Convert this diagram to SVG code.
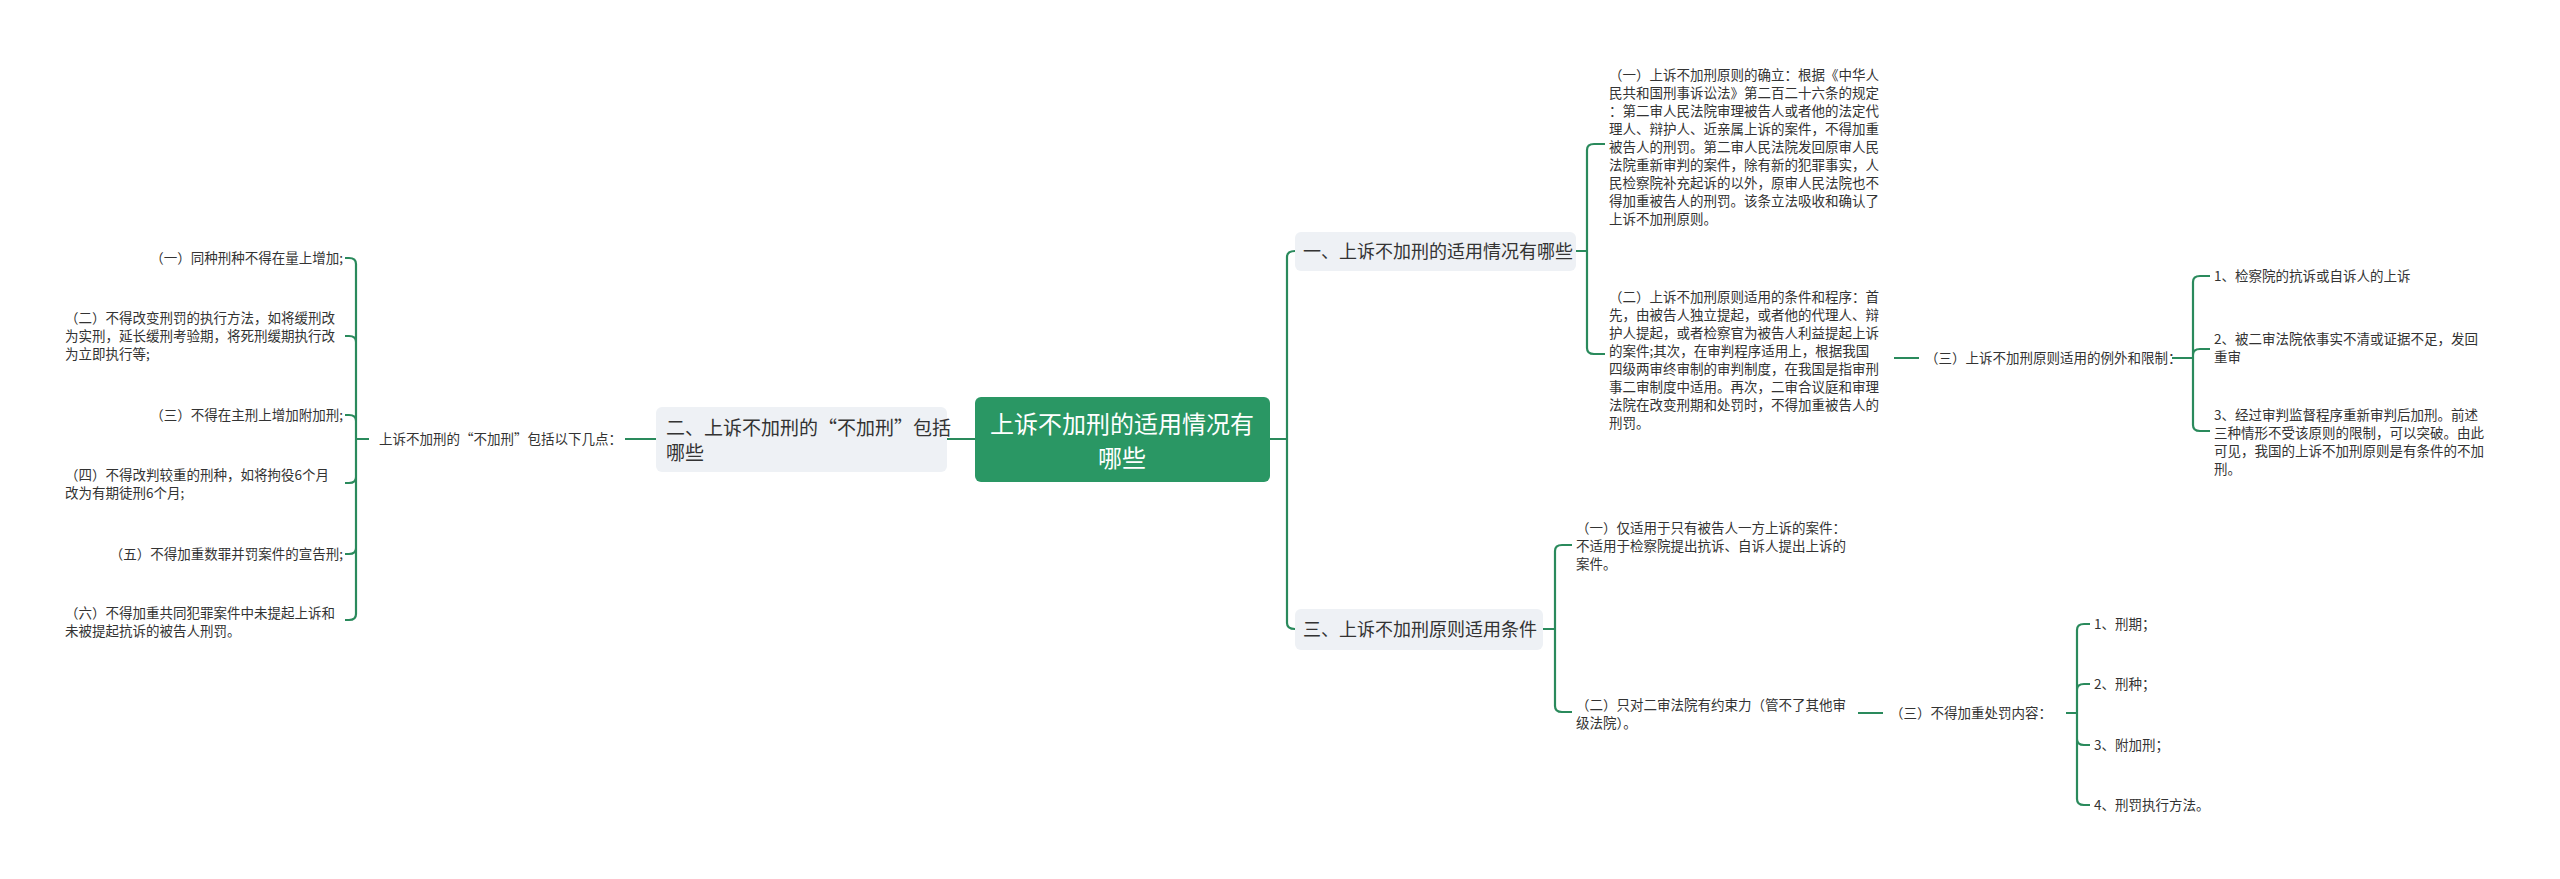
<svg xmlns="http://www.w3.org/2000/svg" width="2560" height="879" viewBox="0 0 2560 879">
<style>
text{font-family:"Noto Sans CJK SC","Noto Sans",sans-serif;fill:#333}
.s{font-size:13.5px}
.e{text-anchor:end}
.c path{fill:none;stroke:#2a8a5c;stroke-width:2.2}
.sub rect{fill:#eef1f5}
</style>
<rect width="2560" height="879" fill="#fff"/>
<g class="c">
<path d="M947 439H975M1270 439H1287M625 439H656"/>
<path d="M1287 439V257Q1287 251 1295 251M1287 439V623Q1287 629 1295 629"/>
<!-- left bracket -->
<path d="M369 439H356V264Q356 258 349 258H345M356 439V342Q356 336 349 336H345M356 439V421Q356 415 349 415H345M356 439V477Q356 483 349 483H345M356 439V548Q356 554 349 554H345M356 439V614Q356 620 349 620H345"/>
<!-- node 一 bracket -->
<path d="M1576 251H1587V150Q1587 144 1594 144H1605M1587 251V348Q1587 354 1594 354H1605"/>
<path d="M1894 358H1919M2172 358H2193V282Q2193 276 2200 276H2210M2193 358V355Q2193 349 2200 349H2210M2193 358V425Q2193 431 2200 431H2210"/>
<!-- node 三 bracket -->
<path d="M1543 629H1555V551Q1555 545 1562 545H1572M1555 629V706Q1555 712 1562 712H1572"/>
<path d="M1858 713H1883M2066 713H2077V630Q2077 624 2084 624H2090M2077 713V690Q2077 684 2084 684H2090M2077 713V739Q2077 745 2084 745H2090M2077 713V799Q2077 805 2084 805H2090"/>
</g>
<g id="center"><rect x="975" y="397" width="295" height="85" rx="6" fill="#2a9764"/>
<text x="1122" y="433" font-size="24" text-anchor="middle" style="fill:#fff">上诉不加刑的适用情况有</text>
<text x="1122" y="467" font-size="24" text-anchor="middle" style="fill:#fff">哪些</text></g>
<g id="n2" class="sub"><rect x="656" y="407" width="291" height="65" rx="6"/>
<text x="666" y="435" font-size="19">二、上诉不加刑的“不加刑”包括</text>
<text x="666" y="460" font-size="19">哪些</text></g>
<g id="n2label"><text class="s" x="379" y="444">上诉不加刑的“不加刑”包括以下几点：</text></g>
<g id="left">
<text class="s e" x="343" y="263">（一）同种刑种不得在量上增加;</text>
<text class="s" x="65" y="323">（二）不得改变刑罚的执行方法，如将缓刑改</text>
<text class="s" x="65" y="341">为实刑，延长缓刑考验期，将死刑缓期执行改</text>
<text class="s" x="65" y="359">为立即执行等;</text>
<text class="s e" x="343" y="420">（三）不得在主刑上增加附加刑;</text>
<text class="s" x="65" y="480">（四）不得改判较重的刑种，如将拘役6个月</text>
<text class="s" x="65" y="498">改为有期徒刑6个月;</text>
<text class="s e" x="343" y="559">（五）不得加重数罪并罚案件的宣告刑;</text>
<text class="s" x="65" y="618">（六）不得加重共同犯罪案件中未提起上诉和</text>
<text class="s" x="65" y="636">未被提起抗诉的被告人刑罚。</text>
</g>
<g id="n1" class="sub"><rect x="1295" y="232" width="281" height="39" rx="6"/>
<text x="1303" y="258" font-size="18">一、上诉不加刑的适用情况有哪些</text></g>
<g id="n1a">
<text class="s" x="1609" y="80">（一）上诉不加刑原则的确立：根据《中华人</text>
<text class="s" x="1609" y="98">民共和国刑事诉讼法》第二百二十六条的规定</text>
<text class="s" x="1609" y="116">：第二审人民法院审理被告人或者他的法定代</text>
<text class="s" x="1609" y="134">理人、辩护人、近亲属上诉的案件，不得加重</text>
<text class="s" x="1609" y="152">被告人的刑罚。第二审人民法院发回原审人民</text>
<text class="s" x="1609" y="170">法院重新审判的案件，除有新的犯罪事实，人</text>
<text class="s" x="1609" y="188">民检察院补充起诉的以外，原审人民法院也不</text>
<text class="s" x="1609" y="206">得加重被告人的刑罚。该条立法吸收和确认了</text>
<text class="s" x="1609" y="224">上诉不加刑原则。</text>
</g>
<g id="n1b">
<text class="s" x="1609" y="302">（二）上诉不加刑原则适用的条件和程序：首</text>
<text class="s" x="1609" y="320">先，由被告人独立提起，或者他的代理人、辩</text>
<text class="s" x="1609" y="338">护人提起，或者检察官为被告人利益提起上诉</text>
<text class="s" x="1609" y="356">的案件;其次，在审判程序适用上，根据我国</text>
<text class="s" x="1609" y="374">四级两审终审制的审判制度，在我国是指审刑</text>
<text class="s" x="1609" y="392">事二审制度中适用。再次，二审合议庭和审理</text>
<text class="s" x="1609" y="410">法院在改变刑期和处罚时，不得加重被告人的</text>
<text class="s" x="1609" y="428">刑罚。</text>
</g>
<g id="n1c"><text class="s" x="1925" y="363">（三）上诉不加刑原则适用的例外和限制：</text></g>
<g id="n1c1"><text class="s" x="2214" y="281">1、检察院的抗诉或自诉人的上诉</text></g>
<g id="n1c2"><text class="s" x="2214" y="344">2、被二审法院依事实不清或证据不足，发回</text>
<text class="s" x="2214" y="362">重审</text></g>
<g id="n1c3"><text class="s" x="2214" y="420">3、经过审判监督程序重新审判后加刑。前述</text>
<text class="s" x="2214" y="438">三种情形不受该原则的限制，可以突破。由此</text>
<text class="s" x="2214" y="456">可见，我国的上诉不加刑原则是有条件的不加</text>
<text class="s" x="2214" y="474">刑。</text></g>
<g id="n3" class="sub"><rect x="1295" y="609" width="248" height="41" rx="6"/>
<text x="1303" y="636" font-size="18">三、上诉不加刑原则适用条件</text></g>
<g id="n3a"><text class="s" x="1576" y="533">（一）仅适用于只有被告人一方上诉的案件：</text>
<text class="s" x="1576" y="551">不适用于检察院提出抗诉、自诉人提出上诉的</text>
<text class="s" x="1576" y="569">案件。</text></g>
<g id="n3b"><text class="s" x="1576" y="710">（二）只对二审法院有约束力（管不了其他审</text>
<text class="s" x="1576" y="728">级法院）。</text></g>
<g id="n3c"><text class="s" x="1890" y="718">（三）不得加重处罚内容：</text></g>
<g id="n3c1"><text class="s" x="2094" y="629">1、刑期；</text></g>
<g id="n3c2"><text class="s" x="2094" y="689">2、刑种；</text></g>
<g id="n3c3"><text class="s" x="2094" y="750">3、附加刑；</text></g>
<g id="n3c4"><text class="s" x="2094" y="810">4、刑罚执行方法。</text></g>
</svg>
